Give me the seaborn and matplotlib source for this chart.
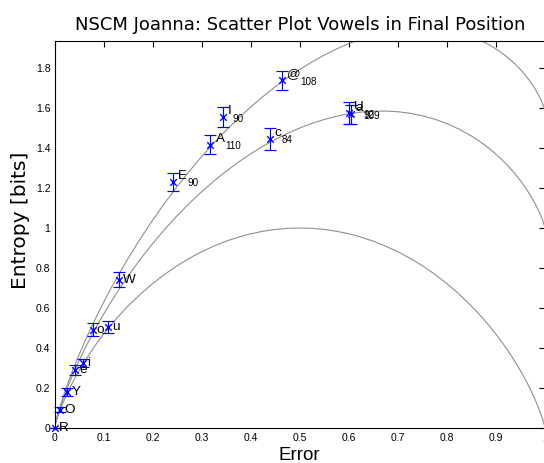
import matplotlib
matplotlib.use("Agg")
import matplotlib.pyplot as plt
import seaborn as sns

# ---- data ----
labels = ['R', 'O', 'Y', 'e', 'i', 'o', 'u', 'W', 'E', 'A', 'I', 'c', '@', 'U', 'a']
counts = ['', '', '', '', '', '', '', '', '90', '110', '90', '84', '108', '92', '109']
error = [0.0, 0.011, 0.026, 0.042, 0.059, 0.078, 0.110, 0.132, 0.242, 0.318, 0.344, 0.439, 0.463, 0.600, 0.604]
entropy = [0.0, 0.092, 0.180, 0.288, 0.325, 0.492, 0.505, 0.742, 1.230, 1.417, 1.555, 1.447, 1.738, 1.575, 1.568]
spread = [0.0, 0.014, 0.020, 0.025, 0.020, 0.032, 0.030, 0.037, 0.045, 0.046, 0.050, 0.055, 0.048, 0.056, 0.048]

# bound curves
curve_p = [0, 0.0025, 0.005, 0.01, 0.02, 0.03, 0.04, 0.05,
           0.0625, 0.075, 0.0875, 0.1, 0.1125, 0.125, 0.1375, 0.15,
           0.175, 0.2, 0.225, 0.25, 0.275, 0.3, 0.325, 0.35, 0.375, 0.4, 0.425, 0.45, 0.475, 0.5,
           0.525, 0.55, 0.575, 0.6, 0.625, 0.65, 0.675, 0.7, 0.725, 0.75, 0.775, 0.8, 0.825, 0.85,
           0.8625, 0.875, 0.8875, 0.9, 0.9125, 0.925, 0.9375, 0.95,
           0.96, 0.97, 0.98, 0.99, 0.995, 0.9975, 1.0]
curve_low = [0, 0.0252, 0.0454, 0.0808, 0.1414, 0.1944, 0.2423, 0.2864,
             0.3373, 0.3843, 0.4281, 0.4690, 0.5075, 0.5436, 0.5777, 0.6098,
             0.6690, 0.7219, 0.7692, 0.8113, 0.8486, 0.8813, 0.9097, 0.9341, 0.9544, 0.9710,
             0.9837, 0.9928, 0.9982, 1.0,
             0.9982, 0.9928, 0.9837, 0.9710, 0.9544, 0.9341, 0.9097, 0.8813, 0.8486, 0.8113,
             0.7692, 0.7219, 0.6690, 0.6098,
             0.5777, 0.5436, 0.5075, 0.4690, 0.4281, 0.3843, 0.3373, 0.2864,
             0.2423, 0.1944, 0.1414, 0.0808, 0.0454, 0.0252, 0]
curve_mid = [0, 0.0277, 0.0504, 0.0908, 0.1614, 0.2244, 0.2823, 0.3364,
             0.3998, 0.4593, 0.5156, 0.5690, 0.6200, 0.6686, 0.7152, 0.7598,
             0.8440, 0.9219, 0.9942, 1.0613, 1.1236, 1.1813, 1.2347, 1.2841, 1.3294, 1.3710,
             1.4087, 1.4428, 1.4732, 1.5,
             1.5232, 1.5428, 1.5587, 1.5710, 1.5794, 1.5841, 1.5847, 1.5813, 1.5736, 1.5613,
             1.5442, 1.5219, 1.4940, 1.4598,
             1.4402, 1.4186, 1.3950, 1.3690, 1.3406, 1.3093, 1.2748, 1.2364,
             1.2023, 1.1644, 1.1214, 1.0708, 1.0404, 1.0227, 1.0]
curve_top = [0, 0.0292, 0.0533, 0.0966, 0.1731, 0.2419, 0.3057, 0.3656,
             0.4364, 0.5032, 0.5668, 0.6275, 0.6858, 0.7417, 0.7956, 0.8475,
             0.9464, 1.0389, 1.1258, 1.2075, 1.2845, 1.3568, 1.4248, 1.4888, 1.5488, 1.6050,
             1.6573, 1.7060, 1.7511, 1.7925,
             1.8303, 1.8645, 1.8951, 1.9220, 1.9450, 1.9643, 1.9795, 1.9908, 1.9977, 2.0000,
             1.9975, 1.9899, 1.9766, 1.9570,
             1.9447, 1.9304, 1.9141, 1.8955, 1.8744, 1.8504, 1.8232, 1.7921,
             1.7639, 1.7318, 1.6947, 1.6499, 1.6224, 1.6062, 1.5850]

x_ticks = [0, 0.1, 0.2, 0.3, 0.4, 0.5, 0.6, 0.7, 0.8, 0.9, 1.0]
y_ticks = [0, 0.2, 0.4, 0.6, 0.8, 1.0, 1.2, 1.4, 1.6, 1.8]

title = 'NSCM Joanna: Scatter Plot Vowels in Final Position'
xlabel = 'Error'
ylabel = 'Entropy [bits]'

# ---- style ----
sns.set_style("white")
plt.rcParams['font.family'] = ['Liberation Sans', 'DejaVu Sans']
plt.rcParams['text.color'] = 'black'
plt.rcParams['axes.labelcolor'] = 'black'
plt.rcParams['axes.titlecolor'] = 'black'

W, H = 544, 463
fig = plt.figure(figsize=(W / 100, H / 100), dpi=100)
ax = fig.add_axes([54.5 / W, 35 / H, 490.5 / W, 387 / H])

grey = '#8f8f8f'
for cv in (curve_low, curve_mid, curve_top):
    sns.lineplot(x=curve_p, y=cv, ax=ax, color=grey, linewidth=0.8,
                 sort=False, estimator=None, zorder=1)

ax.errorbar(error, entropy, yerr=spread, fmt='none', ecolor='blue',
            elinewidth=0.85, capsize=4, capthick=0.85, zorder=2, clip_on=False)
sns.scatterplot(x=error, y=entropy, ax=ax, marker='x', color='blue', s=22,
                linewidth=1.0, zorder=3, clip_on=False)

for x, y, lab, cnt in zip(error, entropy, labels, counts):
    if cnt:
        t = ax.annotate(lab, (x, y), xytext=(5, 3), textcoords='offset pixels',
                        va='baseline', ha='left', fontsize=9.7, color='black',
                        annotation_clip=False)
        ax.annotate(cnt, xy=(1, 0), xycoords=t, xytext=(0.5, -4.5),
                    textcoords='offset pixels', va='baseline', ha='left',
                    fontsize=7.1, color='black')
    else:
        ax.annotate(lab, (x, y), xytext=(4, 0), textcoords='offset pixels',
                    va='center', ha='left', fontsize=9.7, color='black',
                    annotation_clip=False)

ax.set_xlim(0, 1)
ax.set_ylim(0, 1.935)
ax.set_xticks(x_ticks)
ax.set_yticks(y_ticks)
ax.set_xticklabels([f'{v:g}' for v in x_ticks])
ax.set_yticklabels([f'{v:g}' for v in y_ticks])
ax.tick_params(direction='in', length=4.5, width=0.8, colors='black',
               labelsize=7.5, top=True, right=True, pad=3)
ax.tick_params(axis='x', pad=3.5)

for s in ('left', 'bottom', 'top'):
    ax.spines[s].set_visible(True)
    ax.spines[s].set_color('black')
    ax.spines[s].set_linewidth(0.8)
ax.spines['right'].set_visible(False)

ax.set_title(title, fontsize=13, pad=8.2, family=['DejaVu Sans'], color='black')
ax.set_xlabel(xlabel, fontsize=13.5, color='black')
ax.set_ylabel(ylabel, fontsize=14.5, family=['DejaVu Sans'], color='black')
ax.xaxis.set_label_coords(0.5, -19 / 387)
ax.yaxis.set_label_coords(-25 / 490.5, 0.537)

fig.savefig('out.png', dpi=100, facecolor='white')
